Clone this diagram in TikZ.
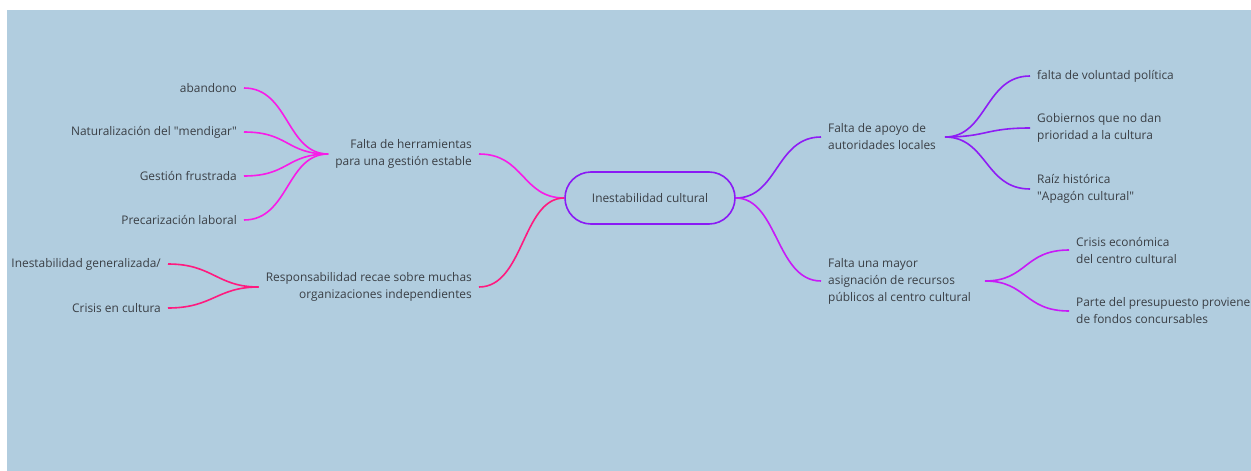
\documentclass[tikz,border=0pt]{standalone}
\usepackage{fontspec}
\setmainfont{Open Sans}
\definecolor{bgblue}{HTML}{B1CDDF}
\definecolor{textgray}{HTML}{3A3F45}
\definecolor{cmag}{HTML}{F81BE8}
\definecolor{cpink}{HTML}{FF1A7F}
\definecolor{cpurple}{HTML}{8E1CF5}
\definecolor{cviolet}{HTML}{C81AF7}
\definecolor{cborder}{HTML}{8A1AF5}
\begin{document}
\begin{tikzpicture}[x=1pt,y=-1pt,
  font=\fontsize{11.9}{17}\selectfont,
  ltxt/.style={text=textgray, inner xsep=7pt, inner ysep=1pt, align=right, anchor=east},
  rtxt/.style={text=textgray, inner xsep=7pt, inner ysep=1pt, align=left, anchor=west},
  centernode/.style={draw=cborder, line width=1.6pt, rounded corners=26pt, minimum width=170pt, minimum height=52pt, text=textgray},
  link/.style={line width=1.6pt}]
\useasboundingbox (0,0) rectangle (1251,471);
\fill[bgblue] (7,10) rectangle (1251,471);
% center
\node[centernode] (c) at (650,198) {Inestabilidad cultural};
% left branches
\node[ltxt] (l1) at (479,154) {Falta de herramientas\\para una gestión estable};
\node[ltxt] (l2) at (479,287) {Responsabilidad recae sobre muchas\\organizaciones independientes};
\node[ltxt] (l1a) at (244,88) {abandono};
\node[ltxt] (l1b) at (244,132) {Naturalización del \textquotedbl mendigar\textquotedbl};
\node[ltxt] (l1c) at (244,176) {Gestión frustrada};
\node[ltxt] (l1d) at (244,220) {Precarización laboral};
\node[ltxt] (l2a) at (168,264) {Inestabilidad generalizada/};
\node[ltxt] (l2b) at (168,308) {Crisis en cultura};
% right branches
\node[rtxt] (r1) at (821,137) {Falta de apoyo de\\autoridades locales};
\node[rtxt] (r2) at (821,281) {Falta una mayor\\asignación de recursos\\públicos al centro cultural};
\coordinate (h1) at (945,137);
\coordinate (h2) at (985,281);
\node[rtxt] (r1a) at (1030,76) {falta de voluntad política};
\node[rtxt] (r1b) at (1030,128) {Gobiernos que no dan\\prioridad a la cultura};
\node[rtxt] (r1c) at (1030,189) {Raíz histórica\\\textquotedbl Apagón cultural\textquotedbl};
\node[rtxt] (r2a) at (1069,250) {Crisis económica\\del centro cultural};
\node[rtxt] (r2b) at (1069,311) {Parte del presupuesto proviene\\de fondos concursables};
% connectors left
\draw[link, cmag] (l1.east) .. controls +(45,0) and +(-42,0) .. (c.west);
\draw[link, cpink] (l2.east) .. controls +(45,0) and +(-42,0) .. (c.west);
\foreach \n in {l1a,l1b,l1c,l1d}
  \draw[link, cmag] (\n.east) .. controls +(45,0) and +(-42,0) .. (l1.west);
\foreach \n in {l2a,l2b}
  \draw[link, cpink] (\n.east) .. controls +(45,0) and +(-42,0) .. (l2.west);
% connectors right
\draw[link, cpurple] (c.east) .. controls +(42,0) and +(-45,0) .. (r1.west);
\draw[link, cviolet] (c.east) .. controls +(42,0) and +(-45,0) .. (r2.west);
\foreach \n in {r1a,r1b,r1c}
  \draw[link, cpurple] (h1) .. controls +(42,0) and +(-45,0) .. (\n.west);
\foreach \n in {r2a,r2b}
  \draw[link, cviolet] (h2) .. controls +(42,0) and +(-45,0) .. (\n.west);
\end{tikzpicture}
\end{document}
